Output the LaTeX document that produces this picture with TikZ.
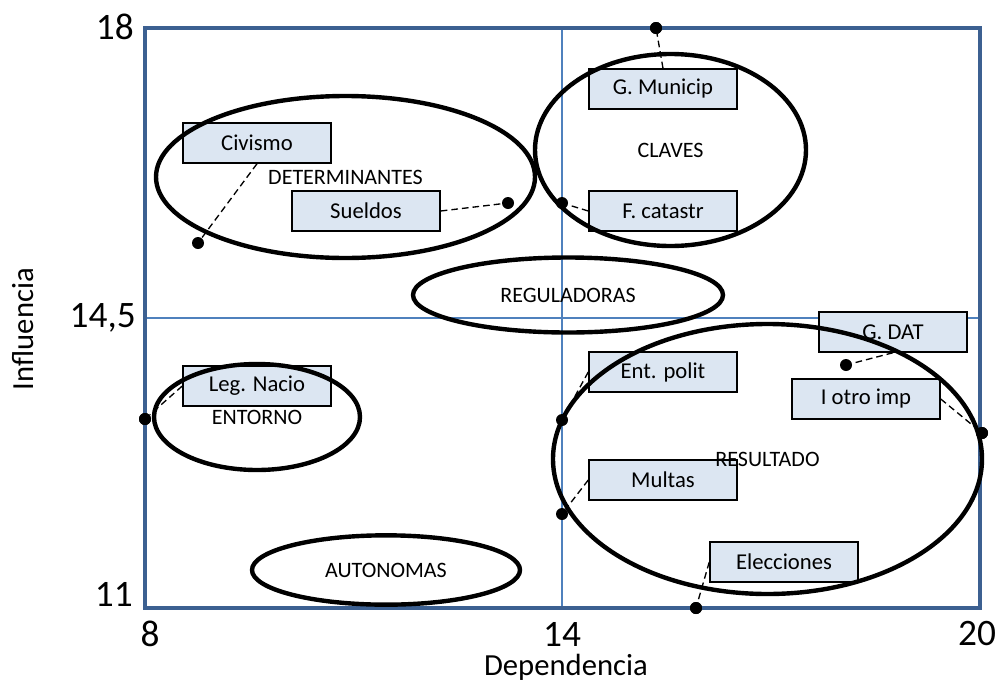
\documentclass[tikz,border=0pt]{standalone}
\usepackage{fontspec}
\setmainfont{Carlito}
\usetikzlibrary{shapes.geometric}
\definecolor{framebl}{RGB}{60,96,145}
\definecolor{gridbl}{RGB}{79,129,189}
\definecolor{boxfill}{RGB}{220,230,242}
\begin{document}
\begin{tikzpicture}[x=0.75pt,y=-0.75pt,
  varbox/.style={draw=black,line width=1.1pt,fill=boxfill,minimum width=111pt,
    minimum height=30pt,inner sep=0pt,font=\fontsize{17}{20}\selectfont},
  zone/.style={ellipse,draw=black,line width=3.3pt,inner sep=0pt,
    font=\fontsize{16.5}{20}\selectfont},
  dot/.style={circle,fill=black,minimum size=9pt,inner sep=0pt},
  leader/.style={draw=black,line width=1pt,dash pattern=on 5pt off 3pt},
  ticklab/.style={inner sep=0pt,font=\fontsize{28}{32}\selectfont},
  axtitle/.style={inner sep=0pt,font=\fontsize{23}{26}\selectfont}]
\useasboundingbox (0,0) rectangle (999,686);

% quadrant lines
\draw[gridbl,line width=1pt] (562,28) -- (562,608);
\draw[gridbl,line width=1pt] (145,318) -- (980,318);

% plot frame
\draw[framebl,line width=3pt] (145,28) rectangle (980,608);

% axis numbers
\node[ticklab,anchor=east] (y18) at (134,27) {18};
\node[ticklab,anchor=east] (y145) at (136,318) {14,5};
\node[ticklab,anchor=east] (y11) at (133,594) {11};
\node[ticklab] (x8) at (150,634) {8};
\node[ticklab] (x14) at (562,634) {14};
\node[ticklab] (x20) at (977,634) {20};

% axis titles
\node[axtitle,anchor=base] (xt) at (566,675) {Dependencia};
\node[axtitle,anchor=base,rotate=90] (yt) at (33,329) {Influencia};

% variable labels
\node[varbox] (civ) at (257,143) {Civismo};
\node[varbox] (sue) at (366,211) {Sueldos};
\node[varbox] (gm)  at (663,89)  {G. Municip};
\node[varbox] (fc)  at (663,211) {F. catastr};
\node[varbox] (leg) at (257,386) {Leg. Nacio};
\node[varbox] (ep)  at (663,372) {Ent. polit};
\node[varbox] (mu)  at (663,480) {Multas};
\node[varbox] (el)  at (784,562) {Elecciones};
\node[varbox] (gd)  at (893,332) {G. DAT};
\node[varbox] (io)  at (866,399) {I otro imp};

% data points
\node[dot] (dgm)  at (656,28)  {};
\node[dot] (dciv) at (198,243) {};
\node[dot] (dsue) at (508,203) {};
\node[dot] (dfc)  at (562,203) {};
\node[dot] (dleg) at (145,419) {};
\node[dot] (dep)  at (562,420) {};
\node[dot] (dmu)  at (562,514) {};
\node[dot] (del)  at (696,608) {};
\node[dot] (dgd)  at (846,365) {};
\node[dot] (dio)  at (982,433) {};

% leader lines
\draw[leader] (gm.north) -- (dgm);
\draw[leader] (civ.south) -- (dciv);
\draw[leader] (sue.east) -- (dsue);
\draw[leader] (fc.west) -- (dfc);
\draw[leader] (leg.west) -- (dleg);
\draw[leader] (ep.west) -- (dep);
\draw[leader] (mu.west) -- (dmu);
\draw[leader] (el.west) -- (del);
\draw[leader] (gd.south) -- (dgd);
\draw[leader] (io.east) -- (dio);

% groups
\node[zone,minimum width=284.25pt,minimum height=121.5pt] (zdet) at (345.5,177) {DETERMINANTES};
\node[zone,minimum width=203.25pt,minimum height=144pt] (zcla) at (670.5,150) {CLAVES};
\node[zone,minimum width=232.5pt,minimum height=56.25pt] (zreg) at (568,295) {REGULADORAS};
\node[zone,minimum width=154.5pt,minimum height=79.5pt] (zent) at (257,417) {ENTORNO};
\node[zone,minimum width=201pt,minimum height=52pt] (zaut) at (386,570) {AUTONOMAS};
\node[zone,minimum width=321.75pt,minimum height=202.5pt] (zres) at (767.5,459) {RESULTADO};

% redraw points above the frame and groups
\foreach \d in {dgm,dleg,del,dio} \fill[black] (\d) circle (4.5pt);
\end{tikzpicture}
\end{document}
